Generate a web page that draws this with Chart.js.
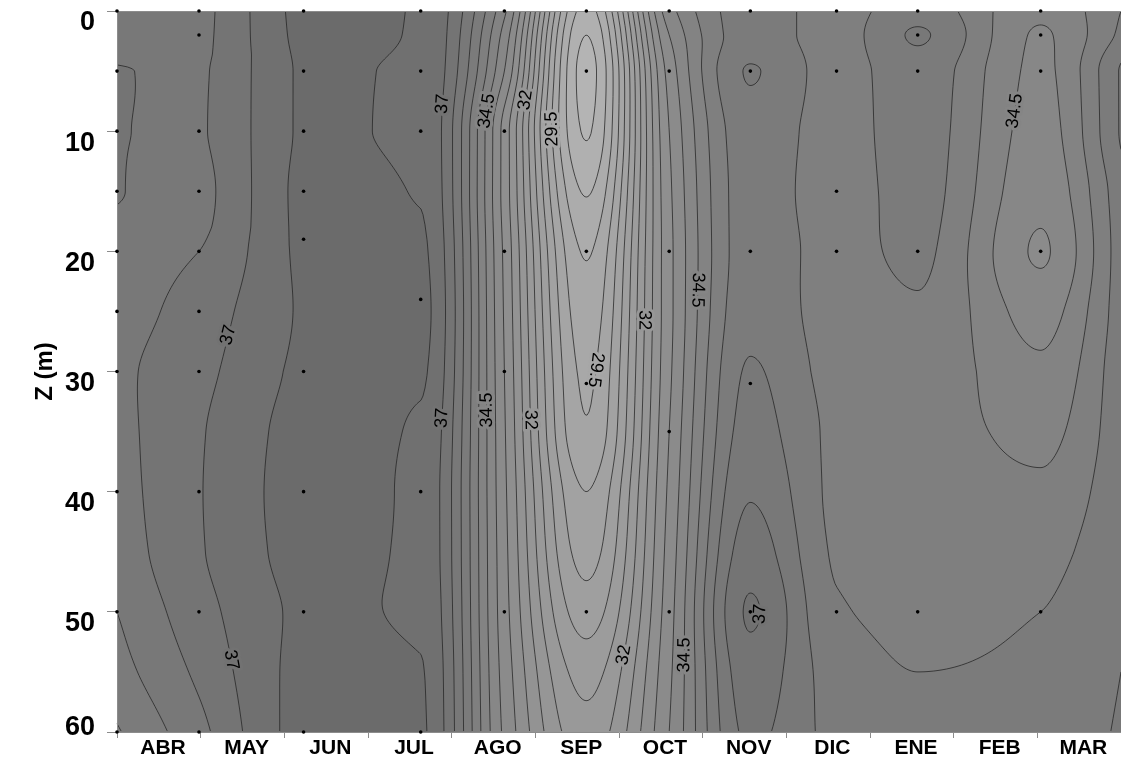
<!DOCTYPE html>
<html>
<head>
<meta charset="utf-8">
<title>Salinidad - sección temporal</title>
<script src="https://cdn.jsdelivr.net/npm/chart.js@4.4.1/dist/chart.umd.min.js"></script>
<style>
  html, body { margin: 0; padding: 0; background: #fff; overflow: hidden; }
  #wrap { width: 1121px; height: 757px; }
</style>
</head>
<body>
<div id="wrap"><canvas id="chart"></canvas></div>
<script>
// Meses del eje x y profundidades de la malla
const months = ['ABR', 'MAY', 'JUN', 'JUL', 'AGO', 'SEP', 'OCT', 'NOV', 'DIC', 'ENE', 'FEB', 'MAR'];
const gridDepths = [0, 2, 5, 10, 15, 20, 25, 30, 35, 40, 45, 50, 55, 60];

// Posición de cada muestreo en el eje x (meses desde el inicio de abril)
const stationX = [0, 0.98, 2.23, 3.63, 4.63, 5.61, 6.60, 7.57, 8.60, 9.57, 11.04, 12];

// Salinidad de cada muestreo, una por profundidad de gridDepths
const abr = [36.30, 36.35, 36.51, 36.505, 36.51, 36.40, 36.30, 36.38, 36.33, 36.28, 36.20, 36.00, 35.80, 35.45];
const may = [36.40, 36.42, 36.47, 36.48, 36.42, 36.50, 36.70, 36.85, 36.95, 36.97, 36.95, 36.80, 36.60, 36.35];
const jun = [37.59, 37.57, 37.53, 37.53, 37.57, 37.55, 37.53, 37.55, 37.62, 37.65, 37.62, 37.55, 37.59, 37.62];
const jul = [37.47, 37.47, 37.45, 37.44, 37.48, 37.56, 37.62, 37.55, 37.45, 37.40, 37.40, 37.44, 37.52, 37.55];
const ago = [34.60, 34.30, 34.00, 33.30, 33.30, 33.40, 33.45, 33.50, 33.55, 33.60, 33.65, 33.70, 33.80, 33.90];
const sep = [28.30, 28.00, 27.80, 27.95, 28.45, 28.95, 29.20, 29.40, 29.55, 30.00, 30.30, 30.75, 31.30, 31.70];
const oct = [34.30, 34.00, 33.70, 33.50, 33.40, 33.35, 33.35, 33.40, 33.50, 33.60, 33.70, 33.80, 33.90, 34.00];
const nov = [35.75, 35.75, 36.03, 35.80, 35.75, 35.75, 35.85, 36.05, 36.20, 36.45, 36.75, 37.05, 36.80, 36.60];
const dic = [35.30, 35.30, 35.30, 35.30, 35.28, 35.35, 35.30, 35.35, 35.40, 35.40, 35.45, 35.55, 35.75, 35.85];
const ene = [35.80, 36.05, 35.80, 35.75, 35.70, 35.60, 35.45, 35.35, 35.30, 35.30, 35.35, 35.40, 35.50, 35.70];
const feb = [34.60, 34.45, 34.40, 34.30, 34.15, 33.95, 34.30, 34.60, 34.85, 35.10, 35.35, 35.50, 35.60, 35.70];
const mar = [35.50, 35.60, 36.05, 36.05, 35.80, 35.75, 35.75, 35.80, 35.80, 35.85, 35.90, 35.95, 36.00, 36.05];
const stations = [abr, may, jun, jul, ago, sep, oct, nov, dic, ene, feb, mar];

// Profundidades realmente muestreadas en cada estación (puntos negros)
const sampleDepths = [
  [0, 5, 10, 15, 20, 25, 30, 40, 50, 60],
  [0, 2, 10, 15, 20, 25, 30, 40, 50, 60],
  [0, 5, 10, 15, 19, 30, 40, 50, 60],
  [0, 5, 10, 24, 40, 60],
  [0, 10, 20, 30, 50],
  [0, 5, 20, 31, 50],
  [0, 5, 20, 35, 50],
  [0, 5, 20, 31, 50],
  [0, 5, 15, 20, 50],
  [0, 2, 5, 20, 50],
  [0, 2, 5, 20, 50]
];

// Isolíneas cada 0.5
const contourLevels = [27.5, 28, 28.5, 29, 29.5, 30, 30.5, 31, 31.5, 32, 32.5, 33, 33.5,
  34, 34.5, 35, 35.5, 36, 36.5, 37, 37.5, 38];

// Etiquetas de las isolíneas
const labelText = ['37', '34.5', '32', '29.5', '37', '37', '34.5', '32', '29.5', '32', '34.5', '32', '34.5', '37', '34.5', '37'];
const labelX = [3.71, 4.42, 4.91, 5.34, 1.53, 3.74, 4.43, 4.91, 5.72, 6.31, 6.82, 6.10, 6.80, 7.59, 10.71, 1.42];
const labelZ = [7.7, 8.3, 7.4, 9.8, 27.0, 33.9, 33.2, 34.0, 29.9, 25.7, 23.2, 53.6, 53.6, 50.2, 8.3, 54.0];
const labelDir = [-90, -90, -90, -90, -90, -90, -90, 90, 90, 90, 90, -90, -90, -90, -90, 90];

// Escala de grises (más oscuro = más salino)
const rampValues = [27.5, 29, 31, 33, 34.5, 35.5, 36.5, 37, 37.5, 38];
const rampGrey = [182, 170, 157, 145, 133, 125, 118, 114, 109, 104];

function greyFor(v) {
  if (v <= rampValues[0]) return rampGrey[0];
  for (let i = 1; i < rampValues.length; i++) {
    if (v <= rampValues[i]) {
      const t = (v - rampValues[i - 1]) / (rampValues[i] - rampValues[i - 1]);
      return rampGrey[i - 1] + t * (rampGrey[i] - rampGrey[i - 1]);
    }
  }
  return rampGrey[rampGrey.length - 1];
}

// Interpolación cúbica monótona (PCHIP)
function pchip(xs, ys) {
  const n = xs.length, h = [], d = [], m = [];
  for (let i = 0; i < n - 1; i++) {
    h.push(xs[i + 1] - xs[i]);
    d.push((ys[i + 1] - ys[i]) / h[i]);
  }
  m[0] = d[0];
  m[n - 1] = d[n - 2];
  for (let k = 1; k < n - 1; k++) {
    if (d[k - 1] * d[k] <= 0) m[k] = 0;
    else {
      const w1 = 2 * h[k] + h[k - 1], w2 = h[k] + 2 * h[k - 1];
      m[k] = (w1 + w2) / (w1 / d[k - 1] + w2 / d[k]);
    }
  }
  return function (t) {
    let i = 0;
    if (t >= xs[n - 1]) i = n - 2;
    else while (i < n - 2 && t > xs[i + 1]) i++;
    const s = Math.min(1, Math.max(0, (t - xs[i]) / h[i])), s2 = s * s, s3 = s2 * s;
    return (2 * s3 - 3 * s2 + 1) * ys[i] + (s3 - 2 * s2 + s) * h[i] * m[i] +
      (-2 * s3 + 3 * s2) * ys[i + 1] + (s3 - s2) * h[i] * m[i + 1];
  };
}

function buildField(xs, ys, left, top, W, H) {
  const stride = W + 1;
  const field = new Float32Array(stride * (H + 1));
  const colFns = stations.map(col => pchip(gridDepths, col));
  const xVals = [];
  for (let i = 0; i <= W; i++) xVals.push(xs.getValueForPixel(left + i));
  for (let j = 0; j <= H; j++) {
    const z = ys.getValueForPixel(top + j);
    const rowFn = pchip(stationX, colFns.map(f => f(z)));
    for (let i = 0; i <= W; i++) field[j * stride + i] = rowFn(xVals[i]);
  }
  return field;
}

const contourPlugin = {
  id: 'contour',
  beforeDraw(chart) {
    const { ctx, chartArea: area, scales: { x, y } } = chart;
    const left = Math.round(area.left), top = Math.round(area.top);
    const W = Math.round(area.right) - left, H = Math.round(area.bottom) - top;
    const stride = W + 1;
    const field = buildField(x, y, left, top, W, H);
    const f = (i, j) => field[Math.max(0, Math.min(H, j)) * stride + Math.max(0, Math.min(W, i))];

    // relleno por bandas
    const off = document.createElement('canvas');
    off.width = W; off.height = H;
    const octx = off.getContext('2d');
    const img = octx.createImageData(W, H);
    for (let j = 0; j < H; j++) {
      for (let i = 0; i < W; i++) {
        const v = (f(i, j) + f(i + 1, j) + f(i, j + 1) + f(i + 1, j + 1)) / 4;
        const g = Math.round(greyFor(Math.floor(v * 2) / 2 + 0.25));
        const p = (j * W + i) * 4;
        img.data[p] = g; img.data[p + 1] = g; img.data[p + 2] = g; img.data[p + 3] = 255;
      }
    }
    octx.putImageData(img, 0, 0);
    ctx.drawImage(off, left, top);

    // isolíneas (marching squares)
    const step = 2;
    ctx.save();
    ctx.beginPath();
    for (let j = 0; j + step <= H; j += step) {
      for (let i = 0; i + step <= W; i += step) {
        const a = f(i, j), b = f(i + step, j), c = f(i + step, j + step), d = f(i, j + step);
        const mn = Math.min(a, b, c, d), mx = Math.max(a, b, c, d);
        for (const L of contourLevels) {
          if (L <= mn || L > mx) continue;
          const pts = [];
          if ((a < L) !== (b < L)) pts.push([i + step * (L - a) / (b - a), j]);
          if ((b < L) !== (c < L)) pts.push([i + step, j + step * (L - b) / (c - b)]);
          if ((d < L) !== (c < L)) pts.push([i + step * (L - d) / (c - d), j + step]);
          if ((a < L) !== (d < L)) pts.push([i, j + step * (L - a) / (d - a)]);
          for (let k = 0; k + 1 < pts.length; k += 2) {
            ctx.moveTo(left + pts[k][0], top + pts[k][1]);
            ctx.lineTo(left + pts[k + 1][0], top + pts[k + 1][1]);
          }
        }
      }
    }
    ctx.strokeStyle = 'rgba(35,35,35,0.85)';
    ctx.lineWidth = 0.9;
    ctx.stroke();

    // etiquetas sobre las isolíneas
    ctx.font = '18px "Liberation Sans", Arial, sans-serif';
    ctx.textAlign = 'center';
    ctx.textBaseline = 'middle';
    ctx.lineJoin = 'round';
    labelText.forEach((txt, k) => {
      const level = parseFloat(txt);
      const px = x.getPixelForValue(labelX[k]) - left;
      const j = Math.round(y.getPixelForValue(labelZ[k]) - top);
      let best = null;
      for (let i = Math.max(0, Math.round(px) - 70); i < Math.min(W, Math.round(px) + 70); i++) {
        const a = f(i, j), b = f(i + 1, j);
        if ((a < level) !== (b < level)) {
          const xi = i + (level - a) / (b - a);
          if (best === null || Math.abs(xi - px) < Math.abs(best - px)) best = xi;
        }
      }
      const bx = best === null ? px : best;
      const ib = Math.round(bx);
      const gx = f(ib + 3, j) - f(ib - 3, j), gy = f(ib, j + 3) - f(ib, j - 3);
      let ang = Math.atan2(gx, -gy) * 180 / Math.PI;
      if (Math.abs(ang - labelDir[k]) > 90) ang += ang > 0 ? -180 : 180;
      const g = Math.round(greyFor(level));
      ctx.save();
      ctx.translate(left + bx, top + j);
      ctx.rotate(ang * Math.PI / 180);
      ctx.strokeStyle = `rgb(${g},${g},${g})`;
      ctx.lineWidth = 6;
      ctx.strokeText(txt, 0, 0);
      ctx.fillStyle = '#000';
      ctx.fillText(txt, 0, 0);
      ctx.restore();
    });
    ctx.restore();
  },
  beforeDatasetsDraw(chart) {
    const { ctx, chartArea: area } = chart;
    ctx.save();
    ctx.strokeStyle = '#8c8c8c';
    ctx.lineWidth = 1;
    ctx.beginPath();
    ctx.moveTo(area.left, Math.round(area.top) + 0.5);
    ctx.lineTo(area.right, Math.round(area.top) + 0.5);
    ctx.stroke();
    ctx.restore();
  }
};

const samplePoints = [];
sampleDepths.forEach((list, s) => list.forEach(z => samplePoints.push({ x: stationX[s], y: z })));

Chart.defaults.font.family = '"Liberation Sans", Arial, sans-serif';

const ctx = document.getElementById('chart').getContext('2d');
const chart = new Chart(ctx, {
  type: 'scatter',
  data: {
    datasets: [{
      label: 'Muestras',
      data: samplePoints,
      pointRadius: 1.8,
      pointBackgroundColor: '#000',
      pointBorderWidth: 0,
      clip: false
    }]
  },
  options: {
    responsive: true,
    maintainAspectRatio: false,
    animation: false,
    events: [],
    layout: { autoPadding: false, padding: { top: 11, right: 0, left: 0, bottom: 0 } },
    plugins: { legend: { display: false }, tooltip: { enabled: false } },
    scales: {
      x: {
        type: 'linear',
        min: 0,
        max: 12,
        afterFit(s) { s.height = 25; s.paddingLeft = 0; s.paddingRight = 0; },
        grid: { drawOnChartArea: false, tickLength: 6, color: '#8c8c8c' },
        border: { color: '#8c8c8c' },
        ticks: {
          stepSize: 1,
          autoSkip: false,
          maxRotation: 0,
          labelOffset: 46,
          padding: -2,
          color: '#000',
          font: { size: 21, weight: 'bold' },
          callback: v => months[v] || ''
        }
      },
      y: {
        type: 'linear',
        reverse: true,
        min: 0,
        max: 60,
        afterFit(s) { s.width = 117; s.paddingTop = 0; s.paddingBottom = 0; },
        grid: { drawOnChartArea: false, tickLength: 10, color: '#8c8c8c' },
        border: { color: '#8c8c8c' },
        ticks: {
          stepSize: 10,
          labelOffset: 12,
          padding: 12,
          color: '#000',
          font: { size: 27, weight: 'bold' },
          // la última etiqueta se sube para no salir del eje
          callback: v => (v === 60 ? ['60', ''] : String(v))
        },
        title: {
          display: true,
          text: 'Z (m)',
          color: '#000',
          font: { size: 24, weight: 'bold' },
          padding: { top: 31, bottom: 0 }
        }
      }
    }
  },
  plugins: [contourPlugin]
});
</script>
</body>
</html>
